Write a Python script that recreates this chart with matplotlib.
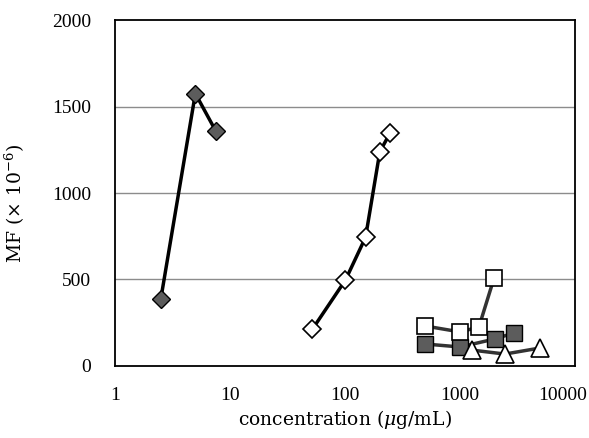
import numpy as np
import matplotlib
matplotlib.use("Agg")
import matplotlib.pyplot as plt
import matplotlib.transforms as mtransforms

plt.rcParams['font.family'] = ['Liberation Serif', 'DejaVu Serif']
plt.rcParams['mathtext.fontset'] = 'dejavuserif'

# data
conc_a = [2.5, 5, 7.5]
mf_a = [385, 1575, 1360]

conc_b = [52, 101, 151, 201, 246]
mf_b = [212, 497, 744, 1239, 1345]

conc_c = [500, 1000, 1460, 1980]
mf_c = [231, 197, 225, 509]

conc_d = [500, 1000, 2000, 2950]
mf_d = [127, 110, 156, 191]

conc_e = [1270, 2460, 4960]
mf_e = [92, 69, 104]

xticks = [1, 10, 100, 1000, 10000]
yticks = [0, 500, 1000, 1500, 2000]

fig = plt.figure(figsize=(5.89, 4.38), dpi=100)
ax = fig.add_axes([0.1952, 0.1644, 0.7810, 0.7899])

ax.set_xscale('log')
ax.set_xlim(1, 10000)
ax.set_ylim(0, 2000)

for y in yticks[1:-1]:
    ax.axhline(y, color='#8c8c8c', lw=1, zorder=0)

gray = '#5c5c5c'
ax.plot(conc_a, mf_a, '-D', color='black', lw=2.5, ms=9,
        mfc=gray, mec='black', mew=1)
ax.plot(conc_b, mf_b, '-D', color='black', lw=2.5, ms=9,
        mfc='white', mec='black', mew=1.2)
ax.plot(conc_d, mf_d, '-s', color='#333333', lw=2.5, ms=11,
        mfc=gray, mec='black', mew=1)
ax.plot(conc_c, mf_c, '-s', color='#333333', lw=2.5, ms=11,
        mfc='white', mec='black', mew=1.2)
ax.plot(conc_e, mf_e, '-^', color='#333333', lw=2.5, ms=13,
        mfc='white', mec='black', mew=1.2)

ax.set_xticks(xticks)
ax.set_xticklabels([str(t) for t in xticks])
ax.set_yticks(yticks)
ax.minorticks_off()
ax.tick_params(length=0, labelsize=14)
ax.tick_params(axis='x', pad=15)
ax.tick_params(axis='y', pad=17)

# last x label sits shifted left so it stays inside the figure
last = ax.get_xticklabels()[-1]
last.set_horizontalalignment('right')
last.set_transform(last.get_transform() +
                   mtransforms.ScaledTranslation(0.12, 0, fig.dpi_scale_trans))

for s in ax.spines.values():
    s.set_linewidth(1.3)

ax.set_xlabel('concentration ($\\mu$g/mL)', fontsize=13.5,
              family='DejaVu Serif', labelpad=3)
ax.set_ylabel('MF (× 10$^{-6}$)', fontsize=13.5, family='DejaVu Serif')
ax.yaxis.set_label_coords(-0.191, 0.47)

fig.savefig('out.png', dpi=100)
